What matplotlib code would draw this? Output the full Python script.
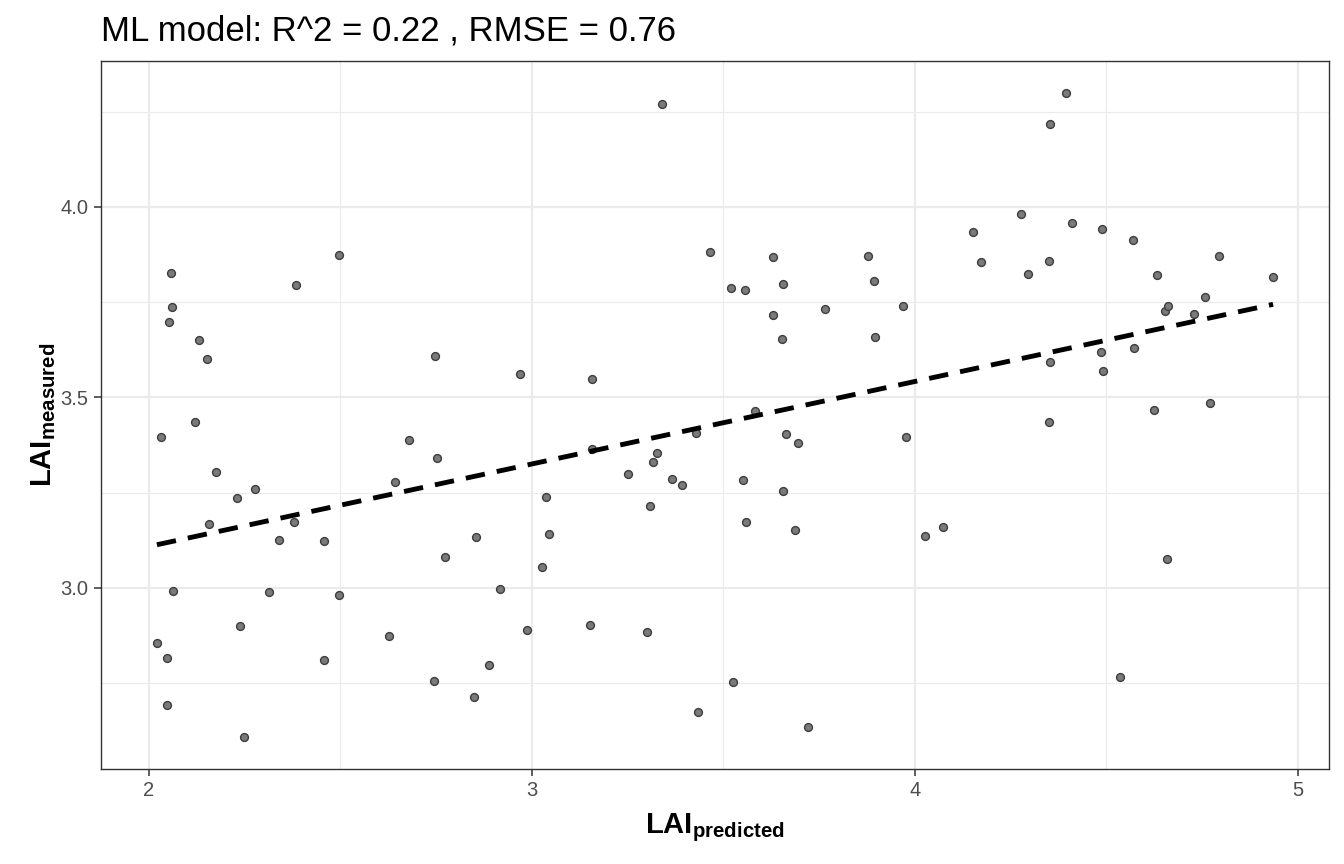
import numpy as np
import matplotlib
matplotlib.use("Agg")
import matplotlib.pyplot as plt
from matplotlib.ticker import MultipleLocator

plt.rcParams["font.family"] = ["Liberation Sans", "DejaVu Sans"]
plt.rcParams["mathtext.fontset"] = "custom"
plt.rcParams["mathtext.rm"] = "Liberation Sans"
plt.rcParams["mathtext.bf"] = "Liberation Sans:bold"

# predicted vs measured LAI
lai_pred = [2.021, 2.031, 2.057, 2.060, 2.052, 2.047, 2.047, 2.063, 2.131, 2.120,
            2.151, 2.157, 2.175, 2.230, 2.238, 2.248, 2.277, 2.384, 2.339, 2.379,
            2.313, 2.457, 2.457, 2.496, 2.496, 2.627, 2.642, 2.679, 2.747, 2.752,
            2.744, 2.773, 2.849, 2.854, 2.888, 2.916, 2.969, 2.987, 3.026, 3.037,
            3.044, 3.157, 3.157, 3.151, 3.251, 3.308, 3.316, 3.326, 3.300, 3.339,
            3.366, 3.392, 3.428, 3.433, 3.465, 3.520, 3.525, 3.551, 3.556, 3.559,
            3.582, 3.629, 3.629, 3.655, 3.653, 3.655, 3.663, 3.687, 3.695, 3.721,
            3.765, 3.877, 3.893, 3.896, 3.969, 3.977, 4.026, 4.073, 4.151, 4.172,
            4.277, 4.295, 4.352, 4.350, 4.352, 4.350, 4.394, 4.410, 4.488, 4.486,
            4.491, 4.535, 4.569, 4.572, 4.632, 4.624, 4.653, 4.661, 4.658, 4.729,
            4.757, 4.770, 4.794, 4.935]
lai_meas = [2.856, 3.396, 3.827, 3.738, 3.698, 2.816, 2.693, 2.992, 3.651, 3.436,
            3.601, 3.168, 3.304, 3.236, 2.900, 2.609, 3.260, 3.795, 3.126, 3.173,
            2.990, 3.123, 2.811, 3.874, 2.982, 2.874, 3.278, 3.388, 3.609, 3.341,
            2.756, 3.081, 2.714, 3.134, 2.798, 2.997, 3.562, 2.890, 3.055, 3.239,
            3.142, 3.549, 3.365, 2.903, 3.299, 3.215, 3.331, 3.354, 2.885, 4.270,
            3.286, 3.270, 3.407, 2.675, 3.882, 3.787, 2.753, 3.283, 3.782, 3.173,
            3.465, 3.869, 3.717, 3.798, 3.654, 3.255, 3.404, 3.152, 3.381, 2.635,
            3.732, 3.871, 3.806, 3.659, 3.740, 3.396, 3.136, 3.160, 3.934, 3.856,
            3.982, 3.824, 4.218, 3.858, 3.593, 3.436, 4.299, 3.958, 3.942, 3.619,
            3.570, 2.766, 3.913, 3.630, 3.822, 3.467, 3.727, 3.740, 3.076, 3.719,
            3.764, 3.486, 3.871, 3.816]

# linear fit shown in the reference (intercept, slope)
fit_coef = [2.676, 0.2165]

r2 = 0.22
rmse = 0.76

x = np.array(lai_pred)
y = np.array(lai_meas)
fx = np.array([x.min(), x.max()])
fy = fit_coef[0] + fit_coef[1] * fx

fig = plt.figure(figsize=(13.44, 8.64), dpi=100)
ax = fig.add_axes([101 / 1344, 1 - 769 / 864, (1329 - 101) / 1344, (769 - 61) / 864])

ax.set_xlim(1.875, 5.081)
ax.set_ylim(2.525, 4.383)
ax.xaxis.set_major_locator(MultipleLocator(1))
ax.xaxis.set_minor_locator(MultipleLocator(0.5))
ax.yaxis.set_major_locator(MultipleLocator(0.5))
ax.yaxis.set_minor_locator(MultipleLocator(0.25))
ax.xaxis.set_major_formatter(plt.FuncFormatter(lambda v, p: f"{v:.0f}"))
ax.yaxis.set_major_formatter(plt.FuncFormatter(lambda v, p: f"{v:.1f}"))

ax.grid(which="major", color="#EBEBEB", linewidth=1.6, zorder=0)
ax.grid(which="minor", color="#EBEBEB", linewidth=0.8, zorder=0)
ax.set_axisbelow(True)

ax.scatter(x, y, s=32, facecolor="#7a7a7a", edgecolor="#3d3d3d", linewidth=1.0, zorder=3)
ax.plot(fx, fy, color="black", linestyle=(0, (4, 2.5)), linewidth=3.5, zorder=4)

for s in ax.spines.values():
    s.set_color("#333333")
    s.set_linewidth(1.0)

ax.tick_params(which="major", length=5, width=1.1, color="#333333",
               labelsize=14.5, labelcolor="#4d4d4d", pad=4)
ax.tick_params(which="minor", length=0)

ax.set_xlabel(r"$\mathbf{LAI}_{\mathbf{predicted}}$", fontsize=21, labelpad=8)
ax.set_ylabel(r"$\mathbf{LAI}_{\mathbf{measured}}$", fontsize=21, labelpad=2)
ax.set_title(f"ML model: R^2 = {r2} , RMSE = {rmse}", loc="left", fontsize=25, pad=15)

fig.savefig("out.png", dpi=100)
